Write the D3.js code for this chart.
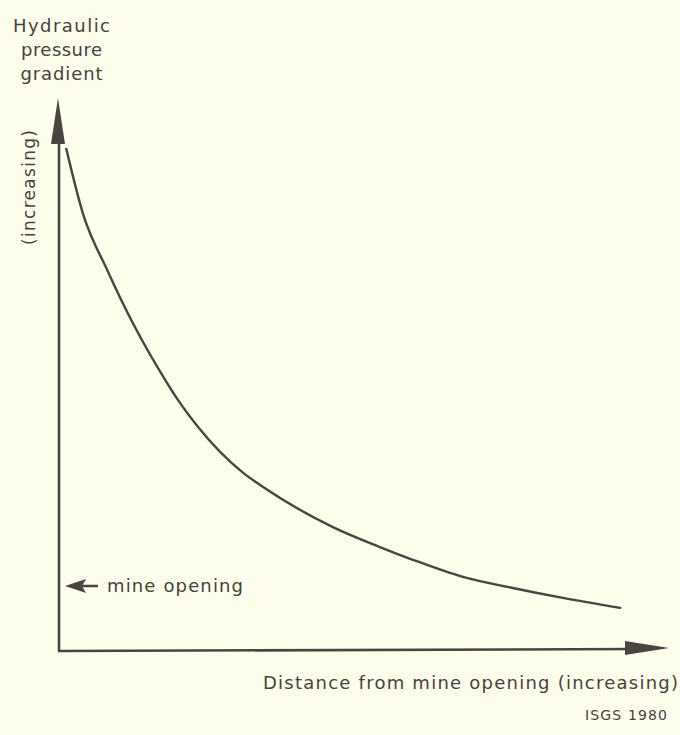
<!DOCTYPE html>
<html>
<head>
<meta charset="utf-8">
<script src="https://cdn.jsdelivr.net/npm/d3@7"></script>
<style>
  html, body { margin: 0; padding: 0; background: #fcfdea; }
  svg text { font-family: "DejaVu Sans", "Liberation Sans", sans-serif; fill: #48433e; }
</style>
</head>
<body>
<svg id="chart"></svg>
<script>
/**
 * Data (distance and gradient in relative units)
 */
const distance = [1.2, 3.9, 7.9, 12.1, 17.7, 19.5, 22.8, 30.2, 33.4, 44.9, 52.6, 58.0, 66.2, 74.4, 82.6, 92.0];
const gradient = [90.8, 79.2, 68.9, 59.3, 48.5, 45.4, 40.5, 32.2, 29.7, 22.4, 18.8, 16.5, 13.4, 11.4, 9.6, 7.8];
const yTitle = ["Hydraulic", "pressure", "gradient"];
const yTitleWidths = [97, 81, 82];
const yNote = "(increasing)";
const xTitle = "Distance from mine opening (increasing)";
const markerLabel = "mine opening";
const credit = "ISGS 1980";

const width = 680;
const height = 735;
const ink = "#4a4540";

const svg = d3.select("#chart")
  .attr("width", width)
  .attr("height", height);

// scales: origin at the axes corner
const x = d3.scaleLinear().domain([0, 100]).range([59, 669]);
const y = d3.scaleLinear().domain([0, 100]).range([651, 98]);

// axes (plain lines with arrowheads)
svg.append("line")
  .attr("x1", x(0)).attr("y1", y(0))
  .attr("x2", x(0)).attr("y2", y(100) + 30)
  .attr("stroke", ink).attr("stroke-width", 2.6);

svg.append("path")
  .attr("d", `M${x(0) - 1},${y(100)} L${x(0) - 8},${y(100) + 46} L${x(0) + 6},${y(100) + 46} Z`)
  .attr("fill", ink);

svg.append("line")
  .attr("x1", x(0) - 1).attr("y1", y(0))
  .attr("x2", x(100) - 30).attr("y2", y(0) - 2)
  .attr("stroke", ink).attr("stroke-width", 2.6);

svg.append("path")
  .attr("d", `M${x(100)},${y(0) - 3} L${x(100) - 44},${y(0) - 10} L${x(100) - 44},${y(0) + 4} Z`)
  .attr("fill", ink);

// curve
const pts = distance.map((d, i) => [d, gradient[i]]);
const line = d3.line()
  .x(d => x(d[0]))
  .y(d => y(d[1]))
  .curve(d3.curveMonotoneX);

svg.append("path")
  .datum(pts)
  .attr("d", line)
  .attr("fill", "none")
  .attr("stroke", ink)
  .attr("stroke-width", 2.4)
  .attr("stroke-linecap", "round");

// y title
svg.selectAll(".ytitle")
  .data(yTitle)
  .enter()
  .append("text")
  .attr("class", "ytitle")
  .attr("x", (d, i) => 61.5 - yTitleWidths[i] / 2)
  .attr("y", (d, i) => 32 + i * 24)
  .attr("textLength", (d, i) => yTitleWidths[i])
  .attr("lengthAdjust", "spacing")
  .style("font-size", "18px")
  .text(d => d);

svg.append("text")
  .attr("transform", "translate(35,245) rotate(-90)")
  .attr("textLength", 115)
  .attr("lengthAdjust", "spacing")
  .style("font-size", "17px")
  .text(yNote);

// mine opening marker
svg.append("line")
  .attr("x1", 78).attr("y1", 586)
  .attr("x2", 98).attr("y2", 586)
  .attr("stroke", ink).attr("stroke-width", 2.5);

svg.append("path")
  .attr("d", "M65,586 L86,579 L82,586 L86,593 Z")
  .attr("fill", ink);

svg.append("text")
  .attr("x", 107)
  .attr("y", 592)
  .attr("textLength", 136)
  .attr("lengthAdjust", "spacing")
  .style("font-size", "18px")
  .text(markerLabel);

// x title
svg.append("text")
  .attr("x", 263)
  .attr("y", 689)
  .attr("textLength", 415)
  .attr("lengthAdjust", "spacing")
  .style("font-size", "18px")
  .text(xTitle);

svg.append("text")
  .attr("x", 585)
  .attr("y", 720)
  .attr("textLength", 82)
  .attr("lengthAdjust", "spacing")
  .style("font-size", "14px")
  .text(credit);
</script>
</body>
</html>
